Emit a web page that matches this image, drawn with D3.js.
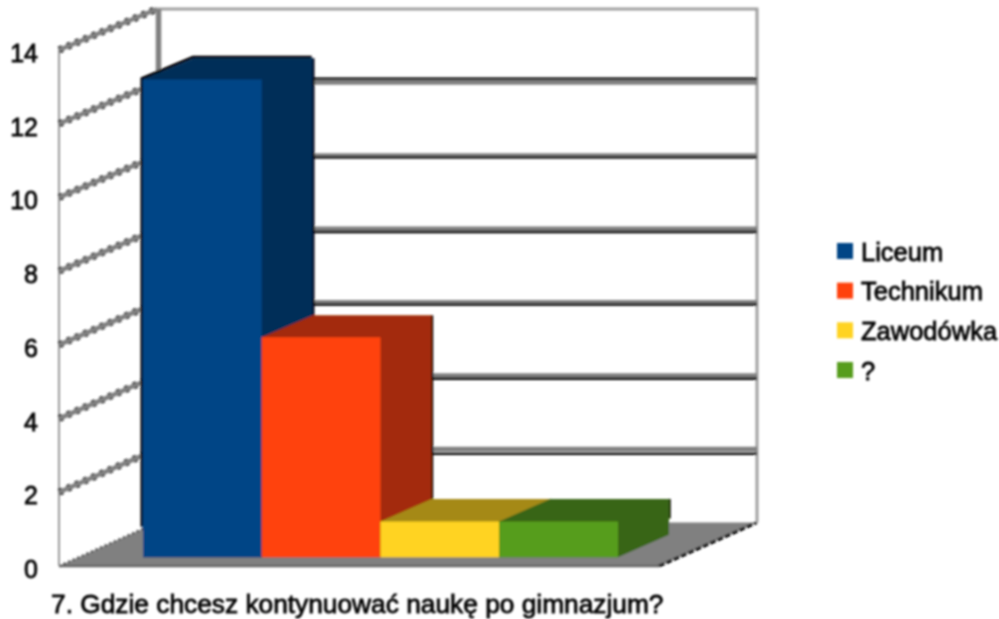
<!DOCTYPE html>
<html>
<head>
<meta charset="utf-8">
<script src="https://cdn.jsdelivr.net/npm/d3@7"></script>
<style>
  html, body { margin: 0; background: #fff; }
  svg { display: block; }
  text { font-family: "Liberation Sans", Arial, sans-serif; fill: #000; stroke: #000; stroke-width: 0.8; }
</style>
</head>
<body>
<div id="chart"></div>
<script>
const categories = ['Liceum', 'Technikum', 'Zawodówka', '?'];
const values = [13, 6, 1, 1];
const frontColors = ['#004586', '#ff420e', '#ffd320', '#579d1c'];
const darkColors = ['#002d59', '#a32c09', '#a58913', '#386512'];
const tickValues = [0, 2, 4, 6, 8, 10, 12, 14];
const title = '7. Gdzie chcesz kontynuować naukę po gimnazjum?';

const width = 999;
const height = 619;

// oblique projection: depth 0 is the front edge of the floor, depth 1 the back wall
const DEPTH_X = 98;
const BAR_Z0 = 0.2;
const BAR_Z1 = 0.72;
const TOP_INSET = 1;

// the black under each gridline sits at a different offset in the source image
const gridInk = { 2: 4.5, 4: 3, 6: 2, 8: 3, 10: 1.5, 12: -3.5 };

const y = d3.scaleLinear().domain([0, 14]).range([566, 50]);
const yBack = d3.scaleLinear().domain([0, 14]).range([522.5, 9]);
const xFloor = d3.scaleLinear().domain([0, 1]).range([59, 659]);
const xBar = d3.scaleBand().domain(categories).range([123.4, 598.4]);

const project = (px, v, z) => [px + z * DEPTH_X, y(v) * (1 - z) + yBack(v) * z];
const wallPt = (t, v, z) => project(xFloor(t), v, z);

const svg = d3.select('#chart').append('svg').attr('width', width).attr('height', height);

svg.append('defs').append('filter').attr('id', 'soft')
  .attr('filterUnits', 'userSpaceOnUse')
  .attr('x', 0).attr('y', 0).attr('width', width).attr('height', height)
  .append('feGaussianBlur').attr('stdDeviation', 0.8);

const root = svg.append('g').attr('filter', 'url(#soft)');
const line = d3.line();
const poly = (pts) => line(pts) + 'Z';

// floor
root.append('path')
  .attr('d', poly([wallPt(0, 0, 0), wallPt(0, 0, 1), wallPt(1, 0, 1), wallPt(1, 0, 0)]))
  .attr('fill', '#808080');
root.append('path')
  .attr('d', line([wallPt(0, 0, 0), wallPt(1, 0, 0)]))
  .attr('stroke', '#666').attr('stroke-width', 2.5).attr('fill', 'none');
root.append('path')
  .attr('d', line([wallPt(1, 0, 0), wallPt(1, 0, 1)]))
  .attr('stroke', '#000').attr('stroke-width', 3).attr('stroke-dasharray', '6 2').attr('fill', 'none');
root.append('path')
  .attr('d', line([wallPt(0, 0, 0), wallPt(0, 0, 1)]))
  .attr('stroke', '#333').attr('stroke-width', 2).attr('stroke-dasharray', '2 3').attr('fill', 'none');

// walls
root.append('path')
  .attr('d', line([wallPt(0, 0, 0), wallPt(0, 14, 0)]))
  .attr('stroke', '#9a9a9a').attr('stroke-width', 2).attr('fill', 'none');
root.append('path')
  .attr('d', line([wallPt(0, 14, 1), wallPt(1, 14, 1), wallPt(1, 0, 1)]))
  .attr('stroke', '#a0a0a0').attr('stroke-width', 3).attr('fill', 'none');
root.append('path')
  .attr('transform', 'translate(1.5,0)')
  .attr('d', line([wallPt(0, 14, 1), wallPt(0, 0, 1)]))
  .attr('stroke', '#808080').attr('stroke-width', 5.5).attr('fill', 'none');

// side wall gridlines: dashed black under the grey gives the stair-step look
const sideTicks = tickValues.filter((v) => v > 0);
root.append('g').selectAll('path').data(sideTicks).join('path')
  .attr('d', (v) => line([wallPt(0, v, 0), wallPt(0, v, 1)]))
  .attr('stroke', '#000').attr('stroke-width', 7).attr('stroke-dasharray', '4 5').attr('fill', 'none');
root.append('g').selectAll('path').data(sideTicks).join('path')
  .attr('d', (v) => line([wallPt(0, v, 0), wallPt(0, v, 1)]))
  .attr('stroke', '#808080').attr('stroke-width', 4.5).attr('fill', 'none');

// back wall gridlines
const backTicks = tickValues.filter((v) => v > 0 && v < 14);
root.append('g').selectAll('path').data(backTicks).join('path')
  .attr('d', (v) => line([wallPt(0, v, 1), wallPt(1, v, 1)]))
  .attr('stroke', '#808080').attr('stroke-width', 5).attr('fill', 'none');
root.append('g').selectAll('path').data(backTicks).join('path')
  .attr('transform', (v) => `translate(0,${gridInk[v]})`)
  .attr('d', (v) => line([wallPt(0, v, 1), wallPt(1, v, 1)]))
  .attr('stroke', '#000').attr('stroke-width', 2.5).attr('fill', 'none');

// bars, left to right so each one covers the side of the previous
categories.forEach((cat, i) => {
  const x0 = xBar(cat);
  const x1 = x0 + xBar.bandwidth();
  const v = values[i];
  const g = root.append('g');
  const top = (px, z) => {
    const p = project(px, v, z);
    return [p[0], p[1] + TOP_INSET];
  };
  const base = (px, z) => project(px, 0, z);
  const farTop = top(x1, BAR_Z1);

  // black edge along the far side of each bar, it stops just above the floor
  g.append('path')
    .attr('d', line([farTop, [farTop[0], yBack(0) - 4]]))
    .attr('transform', 'translate(0.5,0)')
    .attr('stroke', '#000').attr('stroke-width', 2.5).attr('fill', 'none');
  if (v > 10) {
    g.append('path')
      .attr('d', line([project(x0, 0.8, BAR_Z0), top(x0, BAR_Z0), top(x0, BAR_Z1), top(x1, BAR_Z1)]))
      .attr('transform', 'translate(-1,-1)')
      .attr('stroke', '#000').attr('stroke-width', 3).attr('fill', 'none');
  }

  // top and side share one shape so there is no seam between them
  g.append('path')
    .attr('d', poly([top(x0, BAR_Z0), top(x0, BAR_Z1), top(x1, BAR_Z1), base(x1, BAR_Z1), base(x1, BAR_Z0), base(x0, BAR_Z0)]))
    .attr('fill', darkColors[i]);
  g.append('path')
    .attr('d', poly([top(x0, BAR_Z0), top(x1, BAR_Z0), base(x1, BAR_Z0), base(x0, BAR_Z0)]))
    .attr('fill', frontColors[i]);
});

// value axis, labels only
const axis = root.append('g')
  .attr('transform', 'translate(38,3.5)')
  .call(d3.axisLeft(y).tickValues(tickValues).tickSize(0).tickPadding(0));
axis.select('.domain').remove();
axis.selectAll('text').attr('font-size', 25).attr('font-family', '"Liberation Sans", Arial, sans-serif');

// category title under the floor
root.append('text')
  .attr('x', 51).attr('y', 613)
  .attr('font-size', 26.3)
  .text(title);

// legend
const legendY = d3.scalePoint().domain(categories).range([251, 370]);
const legend = root.append('g').selectAll('g').data(categories).join('g')
  .attr('transform', (d) => `translate(837,${legendY(d)})`);
legend.append('rect')
  .attr('y', -8).attr('width', 16).attr('height', 16)
  .attr('fill', (d, i) => frontColors[i]);
legend.append('text')
  .attr('x', 24).attr('y', 9.5)
  .attr('font-size', 25.5)
  .text((d) => d);
</script>
</body>
</html>
